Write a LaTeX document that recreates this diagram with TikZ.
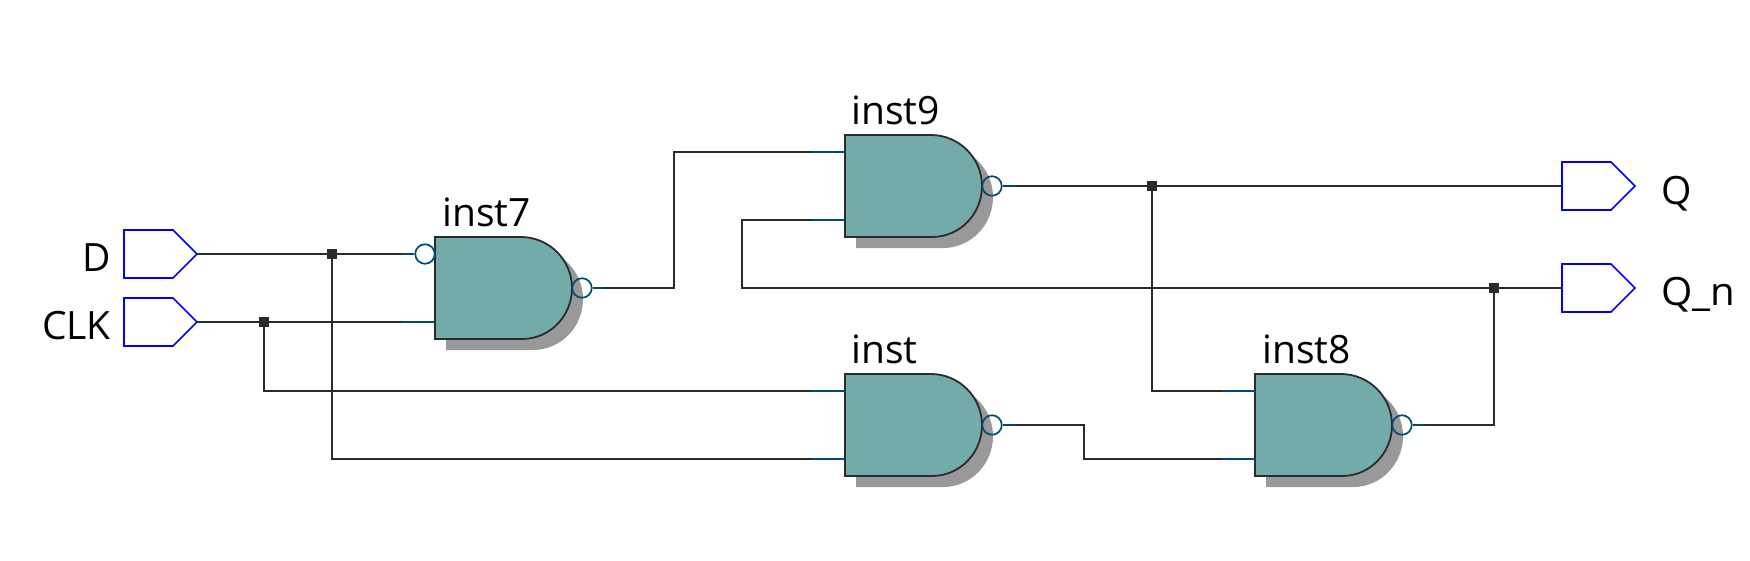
\documentclass[tikz,border=0pt]{standalone}
\usepackage{fontspec}
\setmainfont{Open Sans}
\definecolor{wirec}{HTML}{2B2B2B}
\definecolor{stubc}{HTML}{004B73}
\definecolor{gatec}{HTML}{73ABAB}
\definecolor{shadowc}{HTML}{999999}
\definecolor{pinc}{HTML}{0000FF}
\tikzset{
  x=1pt,y=-1pt,
  wire/.style={draw=wirec,line width=1.8pt},
  stub/.style={draw=stubc,line width=1.8pt},
  gatebody/.style={draw=wirec,line width=1.8pt,fill=gatec},
  gateshadow/.style={fill=shadowc},
  bubble/.style={circle,draw=stubc,line width=1.7pt,fill=none,inner sep=0pt,minimum size=19.5pt},
  pinshape/.style={draw=pinc,line width=1.7pt,fill=white,line join=miter},
  junction/.style={rectangle,fill=wirec,inner sep=0pt,minimum size=10.5pt},
  lbl/.style={inner sep=0pt,font=\fontsize{39}{39}\selectfont,text=black},
}
% #1 name, #2 x, #3 y
\newcommand{\gateat}[3]{%
  \fill[gateshadow,shift={(#2+11,#3+11)}] (0,0) -- (86,0) .. controls (114,0) and (137,23) .. (137,51) .. controls (137,79) and (115,102) .. (87,102) -- (0,102) -- cycle;
  \path[gatebody,shift={(#2,#3)}] (0,0) -- (86,0) .. controls (114,0) and (137,23) .. (137,51) .. controls (137,79) and (115,102) .. (87,102) -- (0,102) -- cycle;
  \coordinate (#1-a) at (#2,#3+17);
  \coordinate (#1-b) at (#2,#3+85);
  \coordinate (#1-as) at (#2-33,#3+17);
  \coordinate (#1-bs) at (#2-33,#3+85);
  \coordinate (#1-o) at (#2+170,#3+51);
  \node[bubble] (#1-n) at (#2+147,#3+51) {};
  \draw[stub] (#1-n.east) -- (#1-o);
}
% #1 name, #2 x, #3 y of tip line
\newcommand{\pinat}[3]{%
  \draw[pinshape] (#2,#3-24) -- (#2+49,#3-24) -- (#2+73,#3) -- (#2+49,#3+24) -- (#2,#3+24) -- cycle;
  \coordinate (#1-l) at (#2,#3);
  \coordinate (#1-r) at (#2+73,#3);
}
\begin{document}
\begin{tikzpicture}
\useasboundingbox (0,0) rectangle (1750,560);
% gates
\gateat{gsev}{435}{237}
\gateat{gnine}{845}{135}
\gateat{gone}{845}{374}
\gateat{geight}{1255}{374}
% inst7 has an extra bubble at the upper input
\node[bubble] (gsev-d) at (425,254) {};
% pins
\pinat{pd}{124}{254}
\pinat{pc}{124}{322}
\pinat{pq}{1562}{186}
\pinat{pn}{1562}{288}
% junctions
\node[junction] (jd) at (332,254) {};
\node[junction] (jc) at (264,322) {};
\node[junction] (jq) at (1152,186) {};
\node[junction] (jn) at (1494,288) {};
% bend points
\coordinate (b1) at (674,288);
\coordinate (b3) at (742,288);
\coordinate (b5) at (1084,425);
% input stubs
\draw[stub] (gsev-as) -- (gsev-d.west);
\draw[stub] (gsev-bs) -- (gsev-b);
\draw[stub] (gnine-as) -- (gnine-a);
\draw[stub] (gnine-bs) -- (gnine-b);
\draw[stub] (gone-as) -- (gone-a);
\draw[stub] (gone-bs) -- (gone-b);
\draw[stub] (geight-as) -- (geight-a);
\draw[stub] (geight-bs) -- (geight-b);
% wires
\draw[wire] (pd-r) -- (jd) -- (gsev-as);
\draw[wire] (pc-r) -- (jc) -- (gsev-bs);
\draw[wire] (jc) |- (gone-as);
\draw[wire] (jd) |- (gone-bs);
\draw[wire] (gsev-o) -- (b1) |- (gnine-as);
\draw[wire] (gnine-o) -- (jq) -- (pq-l);
\draw[wire] (jq) |- (geight-as);
\draw[wire] (pn-l) -- (jn) -- (b3) |- (gnine-bs);
\draw[wire] (gone-o) -- (b5) |- (geight-bs);
\draw[wire] (geight-o) -| (jn);
% labels
\node[lbl,anchor=base west] (t7) at (442,226) {inst7};
\node[lbl,anchor=base west] (t9) at (851,124) {inst9};
\node[lbl,anchor=base west] (t1) at (851,363) {inst};
\node[lbl,anchor=base west] (t8) at (1262,363) {inst8};
\node[lbl,anchor=base east] (td) at (111,271) {D};
\node[lbl,anchor=base east] (tc) at (111,339) {CLK};
\node[lbl,anchor=base west] (tq) at (1661,204) {Q};
\node[lbl,anchor=base west,xscale=1.03] (tn) at (1661,305) {Q\_n};
\end{tikzpicture}
\end{document}
